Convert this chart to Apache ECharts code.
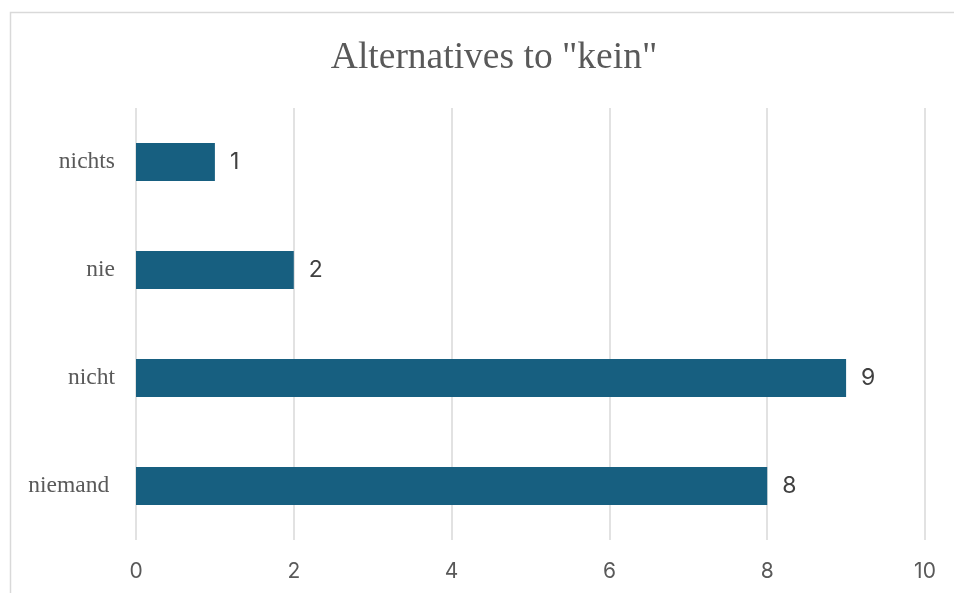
<!DOCTYPE html>
<html>
<head>
<meta charset="utf-8">
<script src="https://cdn.jsdelivr.net/npm/echarts@6/dist/echarts.min.js"></script>
<style>
  html, body { margin: 0; padding: 0; background: #fff; }
  #chart { width: 954px; height: 593px; }
</style>
</head>
<body>
<div id="chart"></div>
<script>
// Word counts for alternatives to "kein"
const categories = ['niemand ', 'nicht', 'nie', 'nichts'];
const counts = [8, 9, 2, 1];
const xTicks = [0, 2, 4, 6, 8, 10];

const chart = echarts.init(document.getElementById('chart'), null, { renderer: 'canvas' });

chart.setOption({
  backgroundColor: '#ffffff',
  animation: false,
  title: {
    text: 'Alternatives to "kein"',
    left: 489,
    top: 34,
    textAlign: 'center',
    textStyle: {
      fontFamily: 'Liberation Serif',
      fontSize: 37.5,
      fontWeight: 'normal',
      color: '#595959'
    }
  },
  graphic: [{
    type: 'rect',
    shape: { x: 10.5, y: 12.5, width: 1000, height: 700 },
    style: { fill: 'none', stroke: '#d9d9d9', lineWidth: 1.5 },
    silent: true,
    z: -1
  }],
  grid: { left: 136, right: 29, top: 108, bottom: 53, containLabel: false },
  xAxis: {
    type: 'value',
    min: xTicks[0],
    max: xTicks[xTicks.length - 1],
    interval: 2,
    axisLine: { show: false },
    axisTick: { show: false },
    splitLine: { lineStyle: { color: '#d9d9d9', width: 1.5 } },
    axisLabel: {
      margin: 21,
      fontFamily: 'Inter',
      fontSize: 21,
      color: '#595959'
    }
  },
  yAxis: {
    type: 'category',
    data: categories,
    axisLine: { show: false },
    axisTick: { show: false },
    axisLabel: {
      margin: 21,
      fontFamily: 'Liberation Serif',
      fontSize: 23.5,
      color: '#595959'
    }
  },
  series: [{
    type: 'bar',
    data: counts,
    barWidth: 38,
    itemStyle: { color: '#175f80' },
    label: {
      show: true,
      position: 'right',
      distance: 15,
      fontFamily: 'Inter',
      fontSize: 23,
      color: '#404040'
    }
  }]
});
</script>
</body>
</html>
